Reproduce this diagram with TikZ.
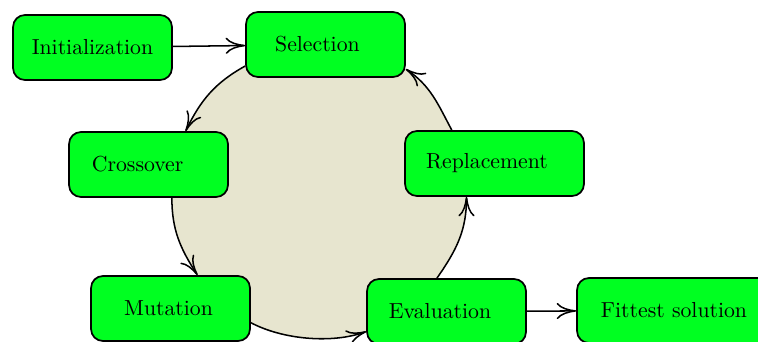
\documentclass[tikz,border=0pt]{standalone}
\usetikzlibrary{arrows.meta,backgrounds}
\definecolor{boxgreen}{RGB}{0,255,33}
\definecolor{loopfill}{RGB}{231,229,207}
\tikzset{
  stage/.style={draw=black, line width=0.8pt, fill=boxgreen, rounded corners=5.5pt,
    minimum width=73.1pt, minimum height=29.9pt, inner sep=0pt},
  flow/.style={line width=0.7pt, -{To[length=9pt,width=7.5pt]}},
}
\begin{document}
\begin{tikzpicture}[x=0.46pt,y=0.46pt]
\useasboundingbox (0,0) rectangle (758,341);
\clip (0,0) rectangle (758,341);

% stages of the evolutionary loop
\node[stage] (ini) at (92.5,293.5) {Initialization};
\node[stage] (sel) at (325.5,296.5) {Selection\hspace*{7.4pt}};
\node[stage] (cro) at (148.5,176.5) {Crossover\hspace*{10pt}};
\node[stage, minimum width=82.3pt] (rep) at (494.5,177.5) {Replacement\hspace*{6.9pt}};
\node[stage] (mut) at (170.5,32.5) {Mutation\hspace*{1.8pt}};
\node[stage] (eva) at (446.5,29.5) {Evaluation\hspace*{6pt}};
\node[stage, minimum width=89.2pt] (fit) at (674,30.5) {Fittest solution};

% shaded interior of the cycle
\begin{scope}[on background layer]
\fill[loopfill] (sel.195) to[out=209,in=64] (cro.42) -- (cro.305)
  to[out=270,in=123] (mut.51) -- (mut.350)
  to[out=332,in=200,looseness=0.8] (eva.194) -- (eva.106)
  to[out=55,in=270] (rep.230) -- (rep.142)
  to[out=118,in=326] (sel.343) -- cycle;
\end{scope}

% connectors
\draw[flow] (ini) -- (sel);
\draw[flow] (sel.195) to[out=209,in=64] (cro.42);
\draw[flow] (cro.305) to[out=270,in=123] (mut.51);
\draw[flow] (mut.350) to[out=332,in=200,looseness=0.8] (eva.194);
\draw[flow] (eva.106) to[out=55,in=270] (rep.230);
\draw[flow] (rep.142) to[out=118,in=326] (sel.343);
\draw[flow] (eva) -- (fit);
\end{tikzpicture}
\end{document}
